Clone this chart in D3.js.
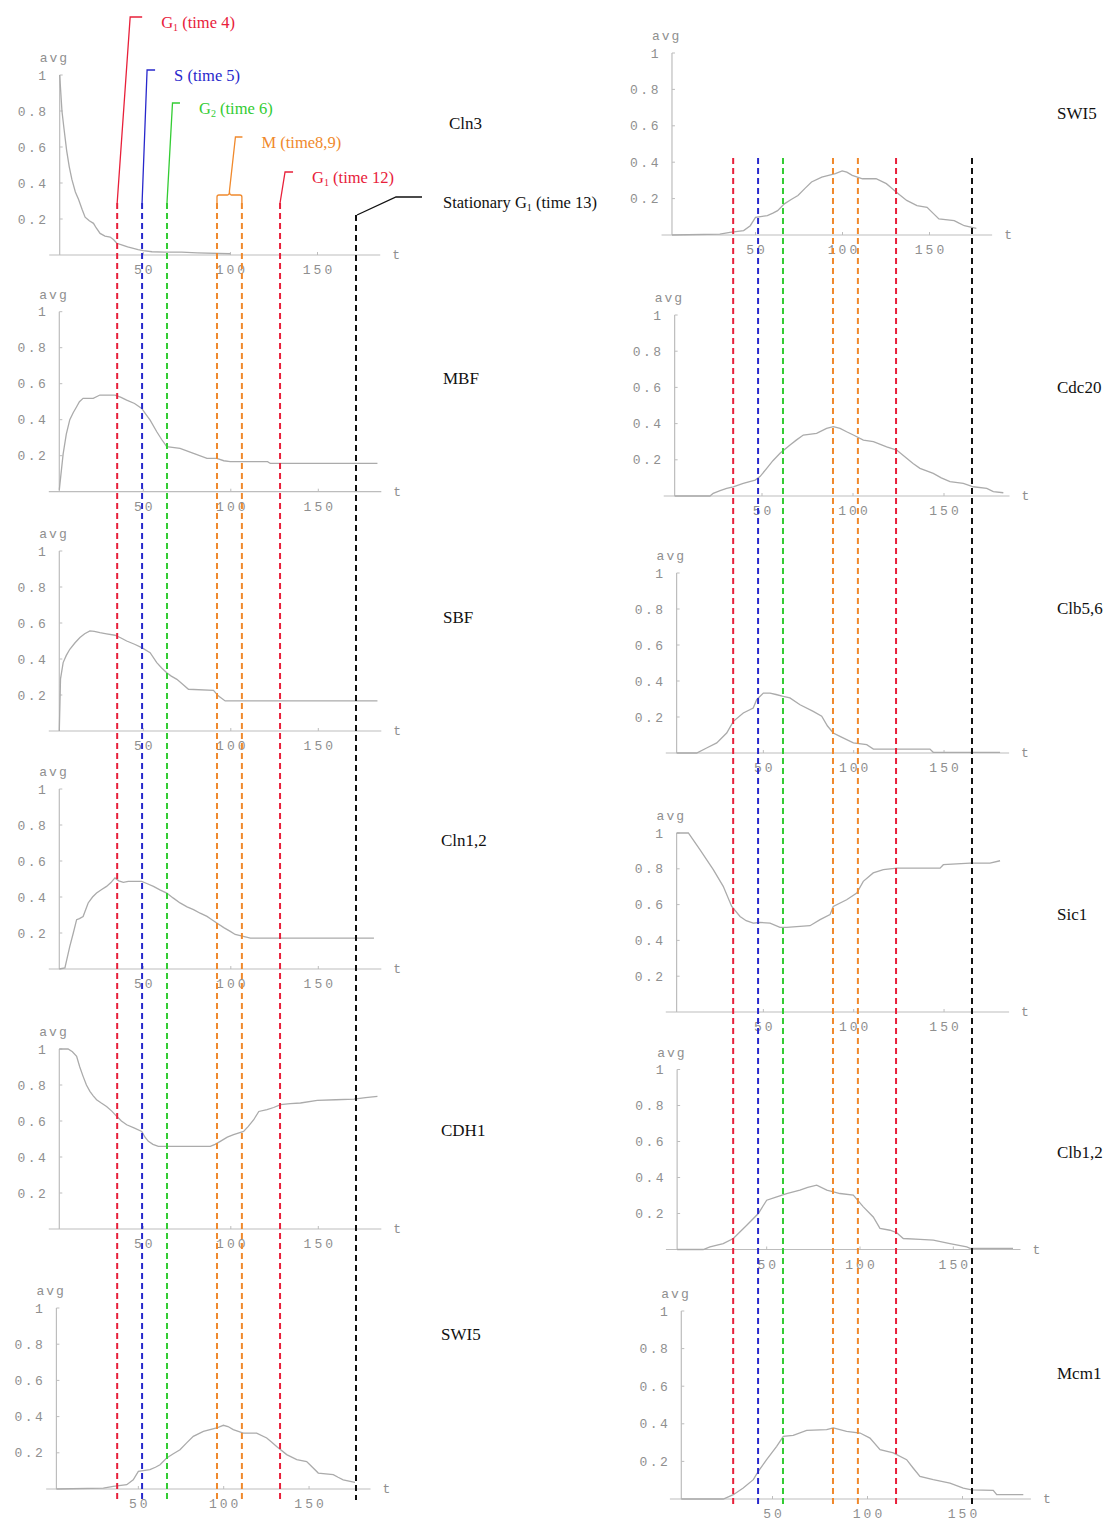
<!DOCTYPE html>
<html>
<head>
<meta charset="utf-8">
<script src="https://cdn.jsdelivr.net/npm/d3@7"></script>
<style>
  body { margin: 0; background: #fff; }
  svg { display: block; }
</style>
</head>
<body>
<svg id="fig" width="1114" height="1525"></svg>
<script>
// ---------- values ----------
const xTicks = [50, 100, 150];
const yTicks = [0.2, 0.4, 0.6, 0.8, 1];

// average activity per time t, one list of [t, avg] per protein
const cln3 = [[2,1.0],[3.3,0.8],[4.5,0.7],[6,0.58],[7.5,0.49],[9,0.42],[11,0.35],[12.8,0.31],[15,0.25],[16.6,0.21],[19,0.19],[21.4,0.176],[23,0.15],[25.2,0.12],[28,0.105],[31,0.1],[33,0.085],[34.8,0.065],[38,0.055],[41,0.045],[44.3,0.037],[47,0.03],[50,0.024],[55,0.018],[62,0.016],[72,0.016],[81,0.012],[100,0.007]];
const mbf = [[2,0.01],[4.2,0.21],[6,0.32],[8,0.4],[10,0.44],[11.9,0.472],[13.5,0.5],[15.6,0.519],[21.4,0.519],[25.2,0.537],[33.8,0.537],[37,0.525],[40.5,0.509],[45,0.49],[49.1,0.463],[51.5,0.43],[53.9,0.398],[57.7,0.333],[60.5,0.29],[63.4,0.25],[71,0.241],[78.7,0.213],[86.4,0.185],[92,0.185],[96,0.172],[99.7,0.167],[121,0.167],[122.6,0.157],[183.8,0.157]];
const sbf = [[2,0],[2.7,0.29],[4.2,0.38],[6,0.42],[8,0.454],[11,0.49],[13.8,0.519],[16.5,0.54],[19.5,0.556],[22,0.553],[25.2,0.546],[29,0.54],[33.8,0.532],[37,0.518],[40.5,0.5],[45,0.482],[49.1,0.463],[53.9,0.435],[57.7,0.38],[60.5,0.35],[63.4,0.324],[66,0.305],[69.2,0.287],[72.5,0.26],[75.8,0.232],[90.1,0.226],[93,0.194],[96.8,0.167],[183.8,0.167]];
const cln12 = [[2,0],[5.2,0.006],[8,0.126],[10,0.2],[11.9,0.274],[13.5,0.28],[15.6,0.292],[18.5,0.367],[21,0.4],[23.3,0.422],[26,0.44],[29,0.459],[31.5,0.48],[33.8,0.506],[36,0.49],[38.6,0.481],[41.4,0.487],[49.1,0.487],[52,0.475],[55.8,0.459],[59.5,0.44],[63.4,0.422],[67,0.395],[71,0.367],[75,0.345],[78.7,0.33],[82.5,0.31],[86.4,0.292],[89,0.275],[92,0.256],[96,0.23],[99.7,0.209],[102.5,0.192],[105.4,0.185],[111.2,0.172],[181.8,0.172]];
const cdh1 = [[2,1.0],[7,1.0],[9.5,0.985],[11.9,0.959],[13.7,0.9],[15.6,0.848],[17.5,0.8],[19.5,0.765],[21.4,0.74],[23.3,0.718],[26,0.7],[29,0.681],[32,0.655],[34.8,0.626],[37.5,0.6],[40.5,0.579],[45,0.56],[49.1,0.542],[51,0.51],[52.9,0.487],[55.5,0.47],[58.6,0.459],[88.3,0.459],[91,0.47],[94,0.487],[98,0.51],[101.6,0.524],[107.3,0.542],[110,0.57],[113.1,0.607],[116,0.653],[120.7,0.663],[124.5,0.675],[128.4,0.691],[134,0.697],[139.8,0.7],[149.4,0.715],[160,0.718],[170.4,0.722],[177,0.73],[183.8,0.737]];
const swi5 = [[2,0],[29.5,0.005],[35.3,0.014],[43.2,0.024],[47,0.051],[50,0.097],[56.8,0.107],[60,0.12],[62.7,0.134],[66.6,0.171],[70.5,0.195],[74.4,0.217],[78.3,0.255],[82.2,0.291],[88.1,0.318],[95.9,0.337],[99.8,0.352],[102.5,0.345],[105.6,0.328],[111.5,0.309],[119.3,0.309],[125.2,0.282],[128,0.26],[131,0.235],[136.9,0.19],[142.8,0.162],[148.6,0.152],[152,0.12],[155.4,0.088],[164.2,0.079],[167,0.065],[170,0.051],[176.9,0.036]];
const cdc20 = [[2,0],[21.4,0],[23.2,0.015],[27,0.03],[30.6,0.042],[34.2,0.051],[39.7,0.07],[46.2,0.088],[48.9,0.107],[52.6,0.153],[56,0.195],[59.9,0.236],[65.4,0.282],[69,0.31],[72.7,0.337],[80,0.346],[85.5,0.374],[89.2,0.383],[92.9,0.374],[96.5,0.355],[100.2,0.337],[105.7,0.309],[111.2,0.3],[118.5,0.272],[124,0.254],[129.5,0.208],[133,0.18],[136.8,0.153],[144.1,0.125],[148.5,0.1],[153.3,0.079],[160.6,0.07],[166.1,0.051],[173.5,0.042],[177.1,0.024],[182.6,0.018]];
const clb56 = [[2,0],[13.1,0],[18.6,0.028],[24.2,0.056],[29.7,0.111],[33.4,0.176],[38.9,0.222],[44.4,0.25],[46.3,0.296],[50,0.333],[53.7,0.333],[57,0.325],[61,0.315],[64.7,0.306],[70.3,0.268],[77.6,0.231],[82.3,0.204],[85.5,0.15],[88.7,0.111],[92.4,0.092],[99.8,0.056],[107.2,0.046],[110.9,0.022],[142.2,0.022],[144,0.004],[181,0.004]];
const sic1 = [[2,1.0],[8.5,1.0],[14.9,0.907],[22.3,0.795],[27.8,0.702],[32.5,0.59],[37.1,0.534],[40.5,0.51],[44.4,0.497],[48.1,0.5],[53.7,0.497],[59.2,0.473],[62.9,0.473],[75.8,0.482],[81.4,0.516],[86.9,0.544],[88.7,0.59],[96.1,0.627],[101.7,0.665],[105.3,0.73],[110.8,0.777],[116.4,0.795],[123.8,0.804],[147.8,0.804],[149.6,0.823],[164.4,0.832],[175.4,0.832],[181,0.845]];
const clb12 = [[2,0],[16,0],[19.6,0.015],[26.7,0.033],[32.1,0.061],[39.3,0.135],[45.5,0.2],[50,0.274],[55.4,0.293],[60.7,0.311],[67.8,0.33],[72,0.345],[76.8,0.357],[82.2,0.33],[89.3,0.311],[96.4,0.302],[101.8,0.237],[107.1,0.181],[110.7,0.117],[116.1,0.107],[119.7,0.093],[123.2,0.061],[132.2,0.056],[139.3,0.052],[148.2,0.033],[157.2,0.015],[159,0.006],[182,0.006]];
const mcm1 = [[2,0],[24.1,0],[29.4,0.023],[34.6,0.058],[39.9,0.103],[42.5,0.147],[46.9,0.209],[52.2,0.28],[55.7,0.333],[60.9,0.338],[68,0.365],[78.5,0.369],[82,0.378],[89,0.36],[96.1,0.351],[101.3,0.324],[106.6,0.262],[113.6,0.245],[120.6,0.209],[124,0.165],[127.6,0.12],[134.6,0.103],[143.4,0.085],[150.4,0.058],[154.8,0.049],[166.2,0.046],[168,0.023],[182,0.023]];

// cell-cycle phase markers (time on the guide axis)
const phaseTimes = [35, 49.3, 63.6, 92.3, 106.6, 128.5, 172.1];
const phaseLabels = [
  ["G", "1", " (time 4)"],
  ["S", "",  " (time 5)"],
  ["G", "2", " (time 6)"],
  ["M", "",  " (time8,9)"],
  ["G", "1", " (time 12)"],
  ["Stationary G", "1", " (time 13)"]
];

// ---------- layout ----------
const panels = [
  { name: "Cln3",   data: cln3,  x0: 56.2,  k: 1.742, y0: 255,    h: 180, nx: 449,  ny: 123 },
  { name: "MBF",    data: mbf,   x0: 55.8,  k: 1.75,  y0: 491.7,  h: 180, nx: 443,  ny: 378 },
  { name: "SBF",    data: sbf,   x0: 55.8,  k: 1.75,  y0: 731,    h: 180, nx: 443,  ny: 617 },
  { name: "Cln1,2", data: cln12, x0: 55.8,  k: 1.75,  y0: 969,    h: 180, nx: 441,  ny: 840 },
  { name: "CDH1",   data: cdh1,  x0: 55.8,  k: 1.75,  y0: 1229,   h: 180, nx: 441,  ny: 1130 },
  { name: "SWI5",   data: swi5,  x0: 53,    k: 1.707, y0: 1489,   h: 181, nx: 441,  ny: 1334 },
  { name: "SWI5",   data: swi5,  x0: 668.5, k: 1.74,  y0: 235,    h: 182, nx: 1057, ny: 113 },
  { name: "Cdc20",  data: cdc20, x0: 671,   k: 1.82,  y0: 496,    h: 181, nx: 1057, ny: 387 },
  { name: "Clb5,6", data: clb56, x0: 673,   k: 1.807, y0: 753,    h: 180, nx: 1057, ny: 608 },
  { name: "Sic1",   data: sic1,  x0: 673,   k: 1.807, y0: 1012,   h: 179, nx: 1057, ny: 914 },
  { name: "Clb1,2", data: clb12, x0: 673.4, k: 1.866, y0: 1249.5, h: 180, nx: 1057, ny: 1152 },
  { name: "Mcm1",   data: mcm1,  x0: 677.5, k: 1.9,   y0: 1499,   h: 188, nx: 1057, ny: 1373 }
];

const AXIS = "#bdbdbd", CURVE = "#ababab", TICKTXT = "#8f8f8f";
const MONO = "'Liberation Mono', 'DejaVu Sans Mono', monospace";
const SERIF = "'Liberation Serif', 'Times New Roman', serif";
const tMin = -4, tMax = 186, tOrigin = 2;

const svg = d3.select("#fig");

// ---------- panels ----------
panels.forEach(p => {
  const x = d3.scaleLinear().domain([0, 180]).range([p.x0, p.x0 + 180 * p.k]);
  const y = d3.scaleLinear().domain([0, 1]).range([p.y0, p.y0 - p.h]);
  const g = svg.append("g");
  const ax = x(tOrigin);

  // x axis
  g.append("line")
    .attr("x1", x(tMin)).attr("x2", x(tMax))
    .attr("y1", y(0)).attr("y2", y(0))
    .attr("stroke", AXIS).attr("stroke-width", 1.2);
  g.selectAll(".xt").data(xTicks).enter().append("line")
    .attr("x1", d => x(d)).attr("x2", d => x(d))
    .attr("y1", y(0)).attr("y2", y(0) - 3)
    .attr("stroke", AXIS);
  g.selectAll(".xl").data(xTicks).enter().append("text")
    .attr("x", d => x(d) + 1.5).attr("y", y(0) + 19)
    .attr("text-anchor", "middle")
    .attr("font-family", MONO).attr("font-size", 13)
    .attr("letter-spacing", 3).attr("fill", TICKTXT)
    .text(d => d);
  g.append("text")
    .attr("x", x(tMax) + 12).attr("y", y(0) + 4)
    .attr("font-family", MONO).attr("font-size", 13).attr("fill", TICKTXT)
    .text("t");

  // y axis
  g.append("line")
    .attr("x1", ax).attr("x2", ax)
    .attr("y1", y(0)).attr("y2", y(1))
    .attr("stroke", AXIS).attr("stroke-width", 1.2);
  g.selectAll(".yt").data(yTicks).enter().append("line")
    .attr("x1", ax).attr("x2", ax + 3)
    .attr("y1", d => y(d)).attr("y2", d => y(d))
    .attr("stroke", AXIS);
  g.selectAll(".yl").data(yTicks).enter().append("text")
    .attr("x", ax - 11).attr("y", d => y(d) + 4.5)
    .attr("text-anchor", "end")
    .attr("font-family", MONO).attr("font-size", 13)
    .attr("letter-spacing", 2.5).attr("fill", TICKTXT)
    .text(d => d === 1 ? "1" : d3.format(".1f")(d));
  g.append("text")
    .attr("x", ax - 20).attr("y", y(1) - 13)
    .attr("font-family", MONO).attr("font-size", 13)
    .attr("letter-spacing", 2).attr("fill", TICKTXT)
    .text("avg");

  // activity curve
  g.append("path")
    .datum(p.data)
    .attr("fill", "none")
    .attr("stroke", CURVE).attr("stroke-width", 1.3)
    .attr("d", d3.line().x(d => x(d[0])).y(d => y(d[1])));

  // protein name
  svg.append("text")
    .attr("x", p.nx).attr("y", p.ny + 6)
    .attr("font-family", SERIF).attr("font-size", 17)
    .attr("fill", "#111")
    .text(p.name);
});

// ---------- phase guide lines ----------
const phaseColors = ["#e8203a", "#2828cc", "#33cc33", "#f0892c", "#f0892c", "#e8203a", "#111111"];
const guideLeft = d3.scaleLinear().domain([0, 180]).range([56.2, 56.2 + 180 * 1.742]);
const columns = [
  { shift: 0,   top: 203, topLast: 215, bottom: 1500 },
  { shift: 616, top: 158, topLast: 158, bottom: 1508 }
];
columns.forEach(c => {
  svg.append("g").selectAll("line").data(phaseTimes).enter().append("line")
    .attr("x1", d => guideLeft(d) + c.shift).attr("x2", d => guideLeft(d) + c.shift)
    .attr("y1", (d, i) => i === phaseTimes.length - 1 ? c.topLast : c.top)
    .attr("y2", c.bottom)
    .attr("stroke", (d, i) => phaseColors[i])
    .attr("stroke-width", 2)
    .attr("stroke-dasharray", "6,4");
});

// ---------- phase annotations ----------
const ann = svg.append("g").attr("fill", "none").attr("stroke-width", 1.3);
const lx = phaseTimes.map(t => guideLeft(t));

function label(xs, ys, parts, color) {
  const t = svg.append("text")
    .attr("x", xs).attr("y", ys)
    .attr("font-family", SERIF).attr("font-size", 16.5)
    .attr("fill", color);
  t.append("tspan").text(parts[0]);
  if (parts[1]) {
    t.append("tspan").attr("font-size", 10).attr("dy", 3).text(parts[1]);
    t.append("tspan").attr("dy", -3).text(parts[2]);
  } else {
    t.append("tspan").text(parts[2]);
  }
}

// single-line leaders: [phase index, bottom y, top dx, top y, end dx]
const leaders = [
  [0, 203, 13, 17, 25],
  [1, 203, 5, 70, 13],
  [2, 203, 5.5, 103, 13],
  [5, 203, 5, 172, 13]
];
leaders.forEach(([i, yb, dx, yt, ex]) => {
  ann.append("path")
    .attr("d", `M${lx[i]},${yb}L${lx[i] + dx},${yt}L${lx[i] + ex},${yt}`)
    .attr("stroke", phaseColors[i]);
  const li = [0, 1, 2, null, null, 4][i];
  label(lx[i] + ex + 19, yt + 11, phaseLabels[li], phaseColors[i]);
});

// M phase: brace over the two mitosis lines
{
  const a = lx[3], b = lx[4], m = (a + b) / 2;
  ann.append("path")
    .attr("d", `M${a},203L${a},197Q${a},195 ${a + 2},195L${m - 2},195Q${m},195 ${m},191Q${m},195 ${m + 2},195L${b - 2},195Q${b},195 ${b},197L${b},203`)
    .attr("stroke", phaseColors[3]);
  ann.append("path")
    .attr("d", `M${m},191L${m + 6},137L${m + 13},137`)
    .attr("stroke", phaseColors[3]);
  label(m + 13 + 19, 148, phaseLabels[3], phaseColors[3]);
}

// stationary G1
{
  const a = lx[6];
  ann.append("path")
    .attr("d", `M${a + 1},215L${a + 40},197L${a + 66},197`)
    .attr("stroke", phaseColors[6]);
  label(a + 66 + 21, 208, phaseLabels[5], "#111");
}
</script>
</body>
</html>
